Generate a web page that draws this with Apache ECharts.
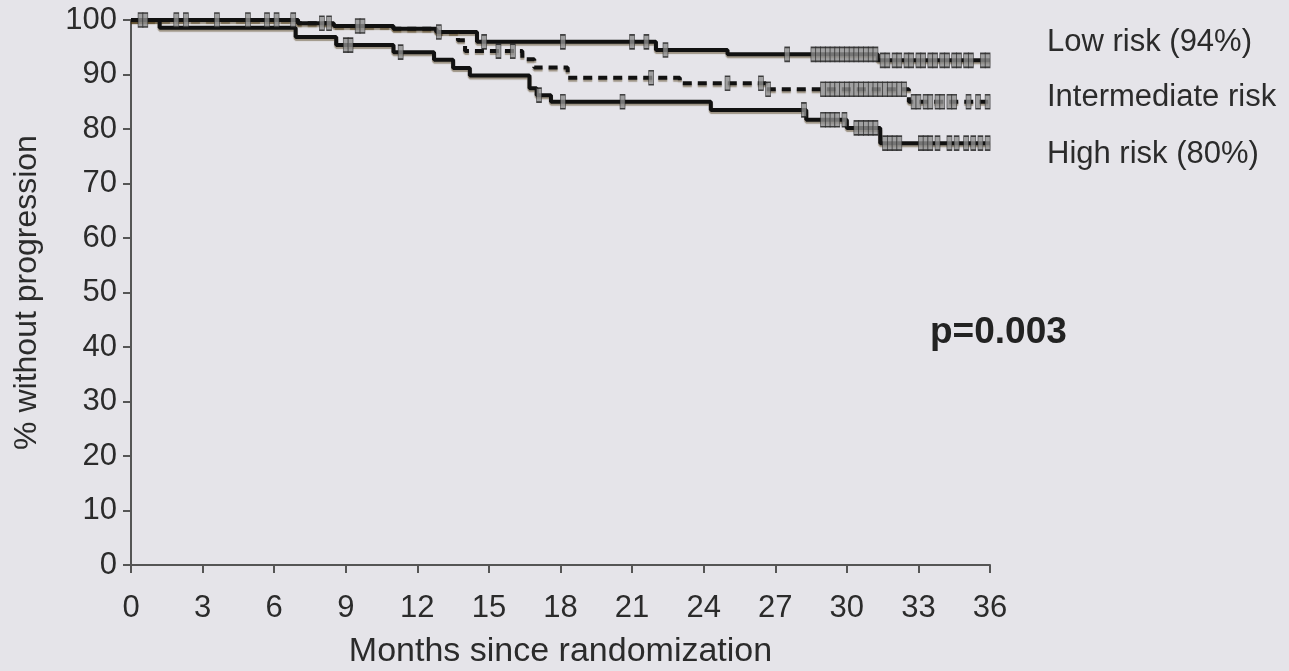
<!DOCTYPE html>
<html>
<head>
<meta charset="utf-8">
<script src="https://cdn.jsdelivr.net/npm/echarts@6/dist/echarts.min.js"></script>
<style>
  html, body { margin: 0; padding: 0; background: #e5e4e9; }
  #chart { width: 1289px; height: 671px; }
</style>
</head>
<body>
<div id="chart"></div>
<script>
// step points: month where the curve drops, and % without progression after it
const lowTimes = [0, 7.0, 8.5, 11.0, 12.8, 14.5, 22.0, 25.0, 31.3, 36];
const lowSurv = [100, 99.4, 98.9, 98.4, 97.8, 96.0, 94.5, 93.7, 92.6, 92.6];
const midTimes = [0, 7.0, 8.5, 11.0, 12.8, 13.7, 14.0, 16.4, 16.9, 18.3, 23.0, 26.6, 32.6, 36];
const midSurv = [100, 99.4, 98.9, 98.4, 97.8, 96.3, 94.3, 92.8, 91.3, 89.4, 88.4, 87.3, 85.0, 85.0];
const highTimes = [0, 1.2, 6.9, 8.6, 11.0, 12.7, 13.5, 14.2, 16.7, 17.0, 17.6, 24.3, 28.3, 30.0, 31.4, 36];
const highSurv = [100, 98.6, 96.9, 95.4, 94.1, 92.7, 91.2, 89.8, 87.5, 86.2, 85.0, 83.5, 81.7, 80.2, 77.4, 77.4];

// censored observations (months)
const lowCensor = [0.4, 0.6, 1.9, 2.3, 3.6, 4.9, 6.1, 8.0, 9.5, 12.9, 14.8, 18.1, 21.0, 21.6, 22.4, 27.5,
  28.6, 28.8, 29.0, 29.2, 29.4, 29.6, 29.8, 30.0, 30.2, 30.4, 30.6, 30.8, 31.0, 31.2,
  31.5, 31.7, 32.0, 32.2, 32.5, 32.7, 33.0, 33.2, 33.5, 33.7, 34.0, 34.2, 34.5, 34.7, 35.0, 35.2, 35.7, 35.9];
const midCensor = [5.7, 6.8, 8.3, 9.7, 15.4, 16.0, 21.8, 25.0, 26.4, 26.7,
  29.0, 29.2, 29.4, 29.6, 29.8, 30.0, 30.2, 30.4, 30.6, 30.8, 31.0, 31.2, 31.4, 31.6, 31.8, 32.0, 32.2, 32.4,
  32.8, 33.0, 33.3, 33.5, 33.8, 34.0, 34.3, 34.5, 35.1, 35.5, 35.9];
const highCensor = [9.0, 9.2, 11.3, 17.1, 18.1, 20.6, 28.2, 29.0, 29.2, 29.4, 29.6, 29.9,
  30.4, 30.6, 30.8, 31.0, 31.2, 31.6, 31.8, 32.0, 32.2, 33.1, 33.3, 33.5, 33.8, 34.3, 34.6, 35.0, 35.3, 35.6, 35.9];

const xTicks = [0, 3, 6, 9, 12, 15, 18, 21, 24, 27, 30, 33, 36];
const labels = ['Low risk (94%)', 'Intermediate risk', 'High risk (80%)'];
const pText = 'p=0.003';

const font = '"Liberation Sans", Arial, sans-serif';
const textColor = '#2b2b2b';

function steps(times, surv) {
  return times.map((t, i) => [t, surv[i]]);
}

function survAt(times, surv, t) {
  let s = surv[0];
  for (let i = 0; i < times.length; i++) {
    if (times[i] <= t) s = surv[i];
  }
  return s;
}

function censorPoints(censor, times, surv) {
  return censor.map((t) => [t, survAt(times, surv, t)]);
}

const lineShadow = { shadowColor: 'rgba(70,50,10,0.45)', shadowOffsetY: 2, shadowBlur: 1 };
const tickStyle = { color: '#8f8f8f', borderColor: '#1e1e1e', borderWidth: 1 };

const chart = echarts.init(document.getElementById('chart'));
chart.setOption({
  backgroundColor: '#e5e4e9',
  animation: false,
  grid: { left: 131, right: 299, top: 20, bottom: 106, outerBoundsMode: 'none' },
  xAxis: {
    type: 'value',
    min: 0,
    max: 36,
    interval: 3,
    name: 'Months since randomization',
    nameLocation: 'middle',
    nameGap: 70,
    nameTextStyle: { fontFamily: font, fontSize: 34, color: textColor },
    axisLine: { lineStyle: { color: '#555', width: 2 } },
    axisTick: { length: 8, lineStyle: { color: '#555', width: 2 } },
    axisLabel: {
      margin: 28,
      fontFamily: font,
      fontSize: 31,
      color: textColor,
      formatter: (v) => (xTicks.includes(v) ? String(v) : ''),
    },
    splitLine: { show: false },
  },
  yAxis: {
    type: 'value',
    min: 0,
    max: 100,
    interval: 10,
    name: '% without progression',
    nameLocation: 'middle',
    nameRotate: 90,
    nameGap: 88,
    nameTextStyle: { fontFamily: font, fontSize: 32, color: textColor },
    axisLine: { show: true, lineStyle: { color: '#555', width: 2 } },
    axisTick: { show: true, length: 8, lineStyle: { color: '#555', width: 2 } },
    axisLabel: { margin: 14, fontFamily: font, fontSize: 31, color: textColor },
    splitLine: { show: false },
  },
  series: [
    {
      name: labels[0],
      type: 'line',
      step: 'end',
      symbol: 'none',
      data: steps(lowTimes, lowSurv),
      lineStyle: { color: '#111', width: 4, ...lineShadow },
      z: 3,
    },
    {
      name: labels[1],
      type: 'line',
      step: 'end',
      symbol: 'none',
      data: steps(midTimes, midSurv),
      lineStyle: { color: '#111', width: 4, type: [9, 6], ...lineShadow },
      z: 3,
    },
    {
      name: labels[2],
      type: 'line',
      step: 'end',
      symbol: 'none',
      data: steps(highTimes, highSurv),
      lineStyle: { color: '#111', width: 4, ...lineShadow },
      z: 3,
    },
    {
      type: 'scatter',
      symbol: 'rect',
      symbolSize: [5, 14],
      data: censorPoints(lowCensor, lowTimes, lowSurv),
      itemStyle: tickStyle,
      z: 4,
    },
    {
      type: 'scatter',
      symbol: 'rect',
      symbolSize: [5, 14],
      data: censorPoints(midCensor, midTimes, midSurv),
      itemStyle: tickStyle,
      z: 4,
    },
    {
      type: 'scatter',
      symbol: 'rect',
      symbolSize: [5, 14],
      data: censorPoints(highCensor, highTimes, highSurv),
      itemStyle: tickStyle,
      z: 4,
    },
  ],
  graphic: [
    { type: 'text', left: 1047, top: 27, style: { text: labels[0], font: '31px ' + font, fill: textColor } },
    { type: 'text', left: 1047, top: 82, style: { text: labels[1], font: '31px ' + font, fill: textColor } },
    { type: 'text', left: 1047, top: 139, style: { text: labels[2], font: '31px ' + font, fill: textColor } },
    { type: 'text', left: 930, top: 314, style: { text: pText, font: 'bold 37px ' + font, fill: '#222' } },
  ],
});
</script>
</body>
</html>
